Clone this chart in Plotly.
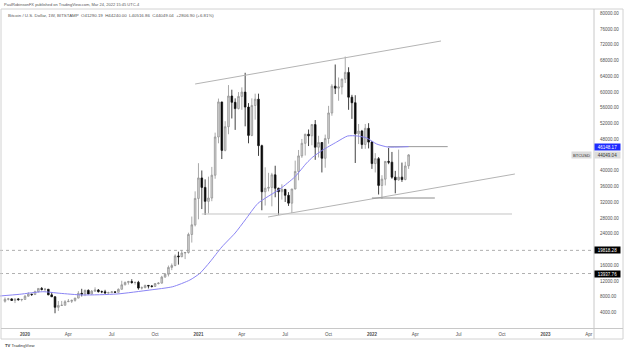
import plotly.graph_objects as go
import pandas as pd

# ---------------- data (weekly BTCUSD, Bitstamp) ----------------
start_week = "2019-11-25"

opens = [
    6900, 7400, 7500, 7100, 7500, 7300,
    7350, 8180, 8700, 8600, 9330, 10150, 9910, 9950, 8520, 8030, 5360, 5830, 5880, 6780, 6900, 7120, 7700,
    8900, 8720, 9670, 8720, 9450, 9750, 9330, 9300, 9000, 9070, 9280, 9170, 9930, 11070, 11680, 11900, 11660,
    11700, 10250, 10330, 10920, 10780, 10670, 11380, 11500, 13030, 13760, 15480, 15960, 18400, 18200, 19150,
    19270, 23860, 26300,
    33000, 38200, 35800, 32260, 33100, 38900, 48600, 57500, 45200, 51200, 59000, 57400, 55800, 58900, 60000,
    56200, 49000, 56600, 58200, 46400, 34700, 35600, 35800, 39000, 35600, 34700, 35300, 33800, 31800, 35400,
    39850, 43800, 47000, 49300, 48900, 51750, 46000, 47200, 43200, 48200, 54700, 61500, 61000, 61300, 63300,
    65000, 58700, 57300, 49400, 50100, 46700, 50800,
    47300, 41850, 43100, 36300, 37900, 42400, 42200, 38400, 37700, 38400, 37800, 41290.19,
]
highs = [
    7850, 7750, 7650, 7530, 7700, 7500,
    8450, 9190, 8780, 9600, 10160, 10500, 10280, 10000, 9180, 8160, 6950, 6980, 7180, 7470, 7300, 7740, 9470,
    10060, 9850, 9900, 9750, 10430, 9990, 9610, 9800, 9320, 9470, 9320, 10150, 12100, 11900, 12080, 12480,
    11800, 12080, 10650, 11100, 10990, 10950, 11480, 11740, 13350, 14060, 15960, 16480, 18800, 19480, 19920,
    19400, 24300, 28400, 34800,
    41950, 40100, 37850, 38530, 41000, 49700, 58350, 57500, 52600, 61780, 60600, 58400, 60000, 61200, 64900,
    57200, 58400, 59600, 59600, 46650, 40900, 39500, 39500, 41300, 35700, 36600, 35300, 34600, 35400, 42600,
    45300, 48100, 49400, 50500, 51900, 52900, 48900, 47300, 49200, 56500, 62000, 67000, 63700, 63400, 69000,
    66300, 59300, 59200, 51900, 50400, 51900, 52100,
    47600, 44500, 43500, 38900, 42500, 45800, 44800, 40000, 45400, 42100, 42300, 44240.00,
]
lows = [
    6550, 7100, 7030, 6430, 7050, 6870,
    7350, 8100, 8250, 8550, 9140, 9640, 9300, 8450, 8000, 3850, 4440, 5700, 5860, 6770, 6460, 6800, 7660,
    8120, 8200, 8800, 8630, 9280, 9100, 8950, 8830, 8900, 9050, 9060, 9150, 9920, 10950, 11130, 11350, 11130,
    9830, 9880, 10230, 10140, 10380, 10530, 11180, 11400, 12900, 13200, 14800, 15800, 16200, 18100, 17600,
    19000, 21800, 25900,
    27700, 30300, 28800, 29200, 32300, 38000, 47000, 43000, 44950, 49300, 53300, 50400, 55600, 55500, 51300,
    47000, 48800, 53000, 43800, 30000, 31200, 34800, 31000, 33300, 28800, 32700, 32100, 31100, 29300, 35300,
    37600, 43300, 43900, 46300, 46500, 42800, 43400, 39600, 40800, 46900, 54000, 59500, 57800, 59400, 62300,
    55500, 53200, 42000, 46800, 45600, 45600, 45700,
    40500, 39600, 34000, 32900, 36300, 41700, 38000, 34300, 37500, 37200, 37600, 40516.86,
]
closes = [
    7400, 7500, 7100, 7500, 7300, 7350,
    8180, 8700, 8600, 9330, 10150, 9910, 9950, 8520, 8030, 5360, 5830, 5880, 6780, 6900, 7120, 7700, 8900,
    8720, 9670, 8720, 9450, 9750, 9330, 9300, 9000, 9070, 9280, 9170, 9930, 11070, 11680, 11900, 11660, 11700,
    10250, 10330, 10920, 10780, 10670, 11380, 11500, 13030, 13760, 15480, 15960, 18400, 18200, 19150, 19270,
    23860, 26300, 33000,
    38200, 35800, 32260, 33100, 38900, 48600, 57500, 45200, 51200, 59000, 57400, 55800, 58900, 60000, 56200,
    49000, 56600, 58200, 46400, 34700, 35600, 35800, 39000, 35600, 34700, 35300, 33800, 31800, 35400, 39850,
    43800, 47000, 49300, 48900, 51750, 46000, 47200, 43200, 48200, 54700, 61500, 61000, 61300, 63300, 65000,
    58700, 57300, 49400, 50100, 46700, 50800, 47300,
    41850, 43100, 36300, 37900, 42400, 42200, 38400, 37700, 38400, 37800, 41242.14, 44049.04,
]

# moving average
ma_dates = ["2019-11-14", "2019-12-26", "2020-02-12", "2020-03-19", "2020-05-06", "2020-07-17",
            "2020-09-24", "2020-11-11", "2020-12-17", "2021-01-07", "2021-01-28", "2021-02-22",
            "2021-03-22", "2021-04-12", "2021-05-09", "2021-06-24", "2021-07-25", "2021-08-19",
            "2021-09-01", "2021-09-22", "2021-10-21", "2021-11-13", "2021-12-04", "2021-12-23",
            "2022-01-13", "2022-02-05", "2022-03-21"]
ma_values = [8230, 8670, 9320, 8920, 8490, 8740, 9750, 10590, 12290, 13990, 16860, 20670,
             24230, 27530, 31770, 35400, 38440, 42000, 43520, 45300, 47330, 48850, 48850, 48340,
             46820, 46060, 46148.17]

# drawings
upper_channel_dates = ["2020-12-28", "2022-05-28"]
upper_channel_prices = [62050, 72970]
lower_channel_dates = ["2021-05-30", "2022-10-30"]
lower_channel_prices = [28290, 39200]
support_low_dates = ["2021-01-11", "2022-10-24"]
support_low_price = 29050
support_mid_dates = ["2022-01-03", "2022-05-15"]
support_mid_price = 33110
resistance_dates = ["2022-02-05", "2022-06-11"]
resistance_price = 46148.17
level_prices = [19818.28, 13937.76]
level_labels = ["19818.28", "13937.76"]

x_tick_dates = ["2020-01-06", "2020-04-06", "2020-07-06", "2020-10-05", "2021-01-04", "2021-04-05",
                "2021-07-05", "2021-10-04", "2022-01-03", "2022-04-04", "2022-07-04", "2022-10-03",
                "2023-01-02", "2023-04-03"]
x_tick_labels = ["<b>2020</b>", "Apr", "Jul", "Oct", "<b>2021</b>", "Apr", "Jul", "Oct",
                 "<b>2022</b>", "Apr", "Jul", "Oct", "<b>2023</b>", "Apr"]
y_tick_values = [4000, 8000, 12000, 16000, 24000, 28000, 32000, 36000, 40000, 48000, 52000,
                 56000, 60000, 64000, 68000, 72000, 76000, 80000]

header_text = "PaulRobinsonFX published on TradingView.com, Mar 24, 2022 15:45 UTC-4"
legend_text = ("Bitcoin / U.S. Dollar, 1W, BITSTAMP  O41290.19  H44240.00  L40516.86  "
               "C44049.04  +2806.90 (+6.81%)")

# ---------------- layout geometry ----------------
W, H = 624, 351
PL, PR, PT, PB = 0, 30, 10, 23
plot_w = W - PL - PR
plot_h = H - PT - PB


def px_x(px):
    return (px - PL) / plot_w


def px_y(py):
    return (H - PB - py) / plot_h


FONT = "Liberation Sans, Arial, sans-serif"
TXT = "#505050"

weeks = pd.date_range(start_week, periods=len(opens), freq="W-MON")

fig = go.Figure()

fig.add_trace(go.Candlestick(
    x=weeks, open=opens, high=highs, low=lows, close=closes,
    increasing=dict(line=dict(color="#939393", width=0.8), fillcolor="#d8d8d8"),
    decreasing=dict(line=dict(color="#111111", width=0.8), fillcolor="#000000"),
    whiskerwidth=0, hoverinfo="skip",
))

line_gray = "#b4b4b4"
fig.add_trace(go.Scatter(x=upper_channel_dates, y=upper_channel_prices, mode="lines",
                         line=dict(color=line_gray, width=1), hoverinfo="skip"))
fig.add_trace(go.Scatter(x=lower_channel_dates, y=lower_channel_prices, mode="lines",
                         line=dict(color=line_gray, width=1), hoverinfo="skip"))
fig.add_trace(go.Scatter(x=support_low_dates, y=[support_low_price] * 2, mode="lines",
                         line=dict(color="#c4c4c4", width=1), hoverinfo="skip"))
fig.add_trace(go.Scatter(x=support_mid_dates, y=[support_mid_price] * 2, mode="lines",
                         line=dict(color="#8c8c8c", width=1), hoverinfo="skip"))
fig.add_trace(go.Scatter(x=resistance_dates, y=[resistance_price] * 2, mode="lines",
                         line=dict(color="#9a9a9a", width=1), hoverinfo="skip"))
fig.add_trace(go.Scatter(x=ma_dates, y=ma_values, mode="lines",
                         line=dict(color="#8a84f4", width=1, shape="spline", smoothing=0.6),
                         hoverinfo="skip"))

shapes = []
for lp in level_prices:
    shapes.append(dict(type="line", xref="paper", yref="y", x0=0, x1=1, y0=lp, y1=lp,
                       line=dict(color="#9a9a9a", width=0.8, dash="dot")))
frame = "#d2d2d2"
# outer frame
shapes.append(dict(type="rect", xref="paper", yref="paper", x0=px_x(1), x1=px_x(623),
                   y0=px_y(339), y1=px_y(9), line=dict(color=frame, width=1)))
# price axis separator
shapes.append(dict(type="line", xref="paper", yref="paper", x0=px_x(594), x1=px_x(594),
                   y0=px_y(339), y1=px_y(9), line=dict(color="#c8c8c8", width=1)))
# time axis separator
shapes.append(dict(type="line", xref="paper", yref="paper", x0=px_x(1), x1=px_x(623),
                   y0=px_y(328.5), y1=px_y(328.5), line=dict(color="#c8c8c8", width=1)))

annotations = [
    dict(xref="paper", yref="paper", x=px_x(2), y=px_y(4.5), text=header_text, showarrow=False,
         xanchor="left", yanchor="middle", font=dict(family=FONT, size=4, color="#555555")),
    dict(xref="paper", yref="paper", x=px_x(6), y=px_y(15.5), text=legend_text, showarrow=False,
         xanchor="left", yanchor="middle", font=dict(family=FONT, size=4.4, color="#555555")),
    dict(xref="paper", yref="paper", x=px_x(3), y=px_y(345), text="<b>TV</b> TradingView",
         showarrow=False, xanchor="left", yanchor="middle",
         font=dict(family=FONT, size=4.2, color="#333333")),
    # price labels
    dict(xref="paper", yref="y", x=1, y=resistance_price, text="46148.17", showarrow=False,
         xanchor="left", yanchor="middle", xshift=0, width=25, height=6, borderpad=0,
         bgcolor="#1f2cff", font=dict(family=FONT, size=4.5, color="#ffffff")),
    dict(xref="paper", yref="y", x=1, y=closes[-1], text="44049.04", showarrow=False,
         xanchor="left", yanchor="middle", width=25, height=6, borderpad=0,
         bgcolor="#dcdcdc", font=dict(family=FONT, size=4.5, color="#333333")),
    dict(xref="paper", yref="y", x=1, y=closes[-1], text="BTCUSD", showarrow=False,
         xanchor="right", yanchor="middle", xshift=-2, width=19, height=6, borderpad=0,
         bgcolor="#dcdcdc", font=dict(family=FONT, size=4.2, color="#333333")),
]
for lp, lt in zip(level_prices, level_labels):
    annotations.append(dict(xref="paper", yref="y", x=1, y=lp, text=lt, showarrow=False,
                            xanchor="left", yanchor="middle", width=25, height=6, borderpad=0,
                            bgcolor="#000000", font=dict(family=FONT, size=4.5, color="#ffffff")))

fig.update_layout(
    width=W, height=H,
    margin=dict(l=PL, r=PR, t=PT, b=PB),
    paper_bgcolor="#ffffff", plot_bgcolor="#ffffff",
    showlegend=False,
    font=dict(family=FONT, size=4.5, color=TXT),
    xaxis=dict(type="date", range=["2019-11-14 13:00", "2023-04-14"],
               tickvals=x_tick_dates, ticktext=x_tick_labels, ticks="",
               showgrid=False, zeroline=False, showline=False,
               rangeslider=dict(visible=False), ticklabelstandoff=2,
               tickfont=dict(family=FONT, size=4.5, color=TXT)),
    yaxis=dict(side="right", range=[107, 80838], tickvals=y_tick_values, tickformat=".2f",
               ticks="", showgrid=False, zeroline=False, showline=False,
               ticklabelstandoff=5, tickfont=dict(family=FONT, size=4.5, color=TXT)),
    shapes=shapes, annotations=annotations,
)

fig.write_html("out.html", config={"displayModeBar": False})
